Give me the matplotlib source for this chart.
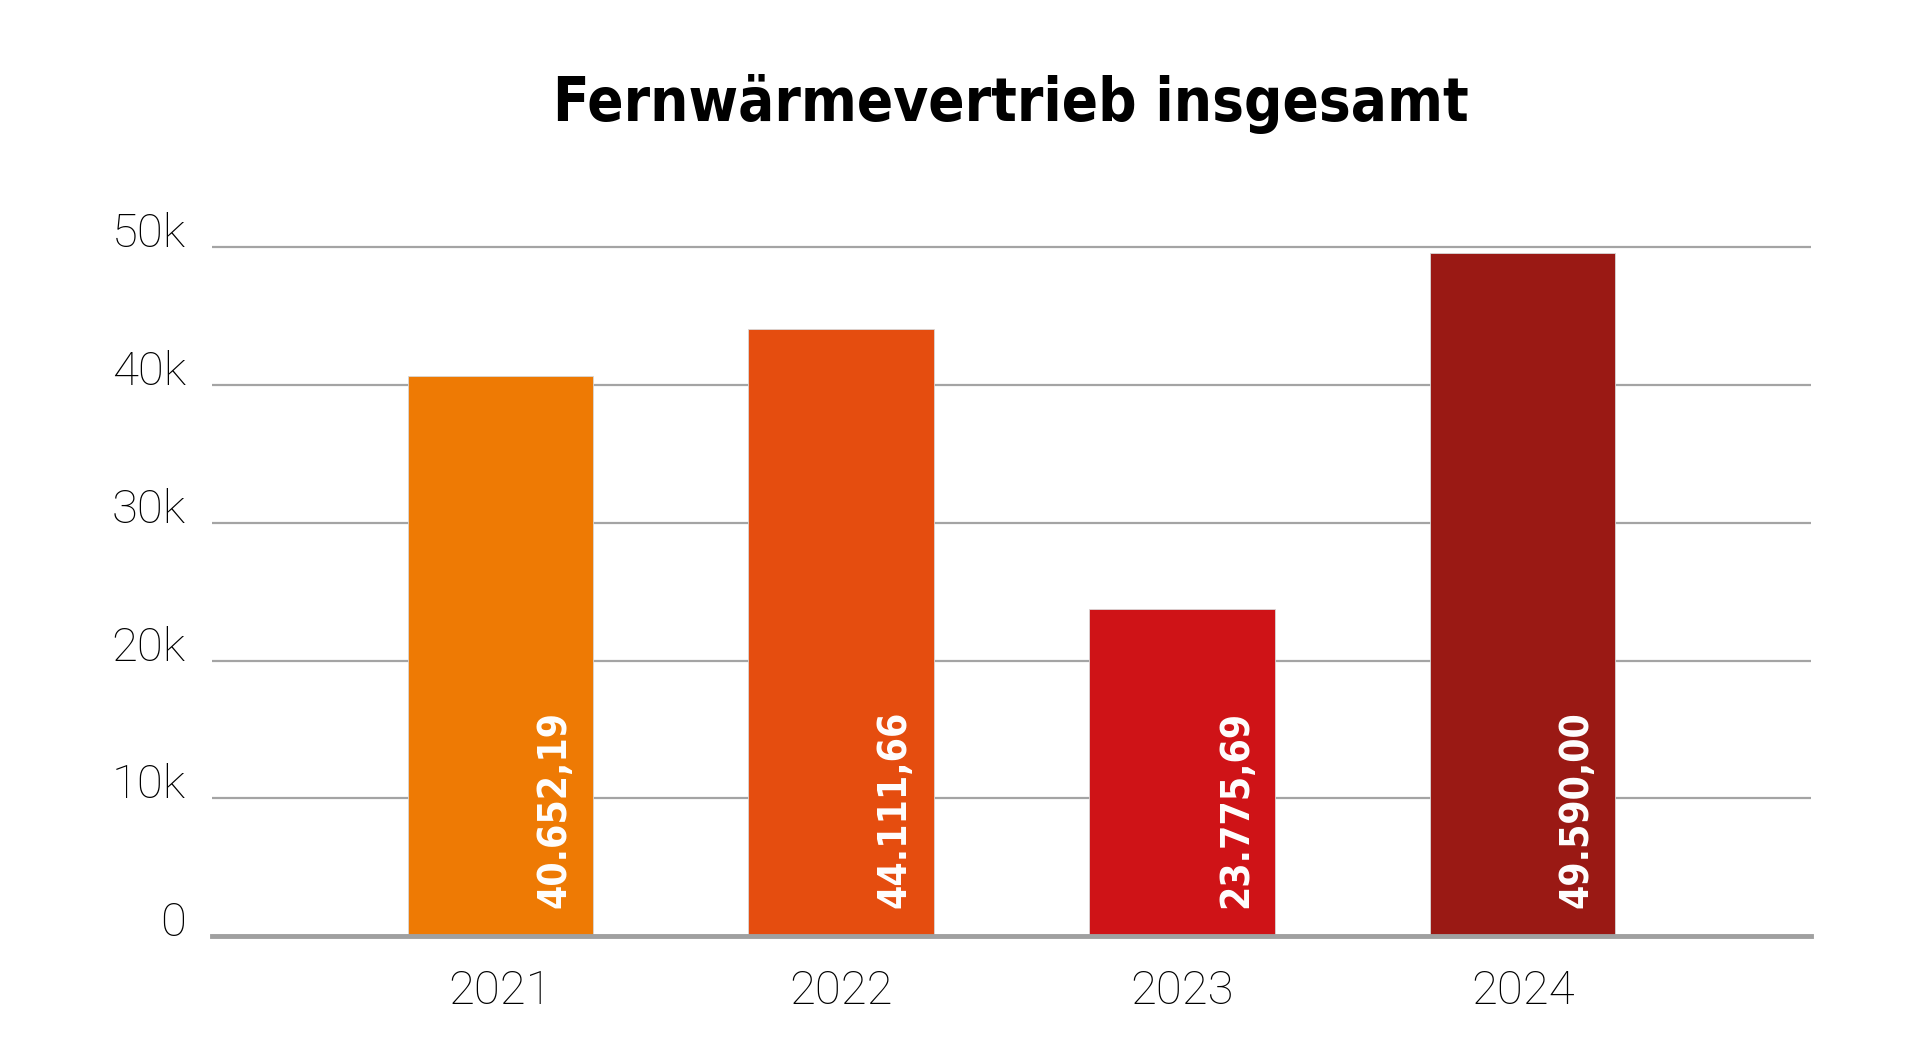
import matplotlib
matplotlib.use("Agg")
import matplotlib.pyplot as plt
import numpy as np

# data
years = ["2021", "2022", "2023", "2024"]
values = [40652.19, 44111.66, 23775.69, 49590.00]
bar_colors = ["#EE7A04", "#E54D0F", "#CF1317", "#9A1914"]
y_ticks = [0, 10000, 20000, 30000, 40000, 50000]
y_tick_labels = ["0", "10k", "20k", "30k", "40k", "50k"]


def de_format(v):
    s = f"{v:,.2f}"
    return s.replace(",", "X").replace(".", ",").replace("X", ".")


fig = plt.figure(figsize=(19.21, 10.5), dpi=100)
ax = fig.add_axes([0.1104, 0.1086, 0.8323, 0.6688])

x = np.arange(len(years))
ax.bar(x, values, width=0.543, color=bar_colors, edgecolor="#d8d8d8",
       linewidth=0.6, zorder=2)

# value labels inside the bars
for xi, v in zip(x, values):
    ax.text(xi + 0.158, 2000, de_format(v), rotation=90, ha="center", va="bottom",
            color="white", fontsize=28, fontweight="bold", fontstretch="condensed",
            family="DejaVu Sans", zorder=3)

ax.set_xlim(-0.845, 3.845)
ax.set_ylim(0, 51000)

tick_font = dict(fontsize=34, family=["Roboto", "DejaVu Sans"],
                 fontweight="light", color="#000000")
ax.set_yticks(y_ticks)
ax.set_yticklabels(y_tick_labels, **tick_font)
for lab in ax.get_yticklabels():
    lab.set_va("baseline")
ax.set_xticks(x)
ax.set_xticklabels(years, **tick_font)
ax.tick_params(axis="y", length=0, pad=19)
ax.tick_params(axis="x", length=0, pad=24)

ax.grid(axis="y", color="#a4a4a4", linewidth=1.6, zorder=0)
ax.set_axisbelow(True)
for side in ["top", "right", "left"]:
    ax.spines[side].set_visible(False)
ax.spines["bottom"].set_color("#a0a0a0")
ax.spines["bottom"].set_linewidth(3.5)
ax.spines["bottom"].set_zorder(4)

fig.text(0.5263, 0.901, "Fernwärmevertrieb insgesamt", ha="center", va="center",
         fontsize=43, fontweight="bold", fontstretch="condensed",
         family="DejaVu Sans", color="black")

fig.savefig("out.png", dpi=100, facecolor="white")
